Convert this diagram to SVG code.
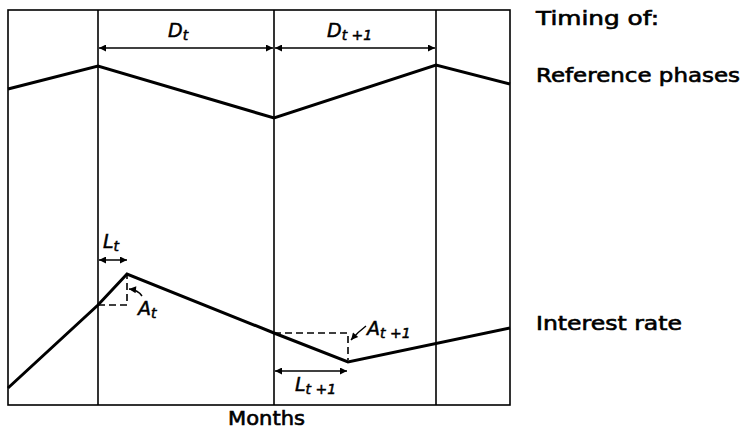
<svg xmlns="http://www.w3.org/2000/svg" width="742" height="428" viewBox="0 0 742 428">
<style>
.frame{fill:none;stroke:#000;stroke-width:1.6}
.series{fill:none;stroke:#000;stroke-width:3;stroke-linejoin:miter}
.dash{fill:none;stroke:#000;stroke-width:1.6;stroke-dasharray:7,4}
.dim{fill:none;stroke:#000;stroke-width:1.5}
.lbl{font-family:"DejaVu Sans","Liberation Sans",Arial,sans-serif;font-size:19px;fill:#000;stroke:#000;stroke-width:0.6}
.sym{font-family:"DejaVu Sans","Liberation Sans",Arial,sans-serif;font-style:italic;font-size:19px;fill:#000;stroke:#000;stroke-width:0.5}
.sub{font-size:14px}
</style>
<defs>
<marker id="ah" viewBox="0 0 10 10" refX="10" refY="5" markerWidth="9" markerHeight="7" markerUnits="userSpaceOnUse" orient="auto-start-reverse">
<path d="M0,0 L10,5 L0,10 z" fill="#000"/>
</marker>
</defs>
<g id="frame">
<rect class="frame" x="8" y="10" width="502" height="395"/>
<line class="frame" x1="98" y1="10" x2="98" y2="405"/>
<line class="frame" x1="274" y1="10" x2="274" y2="405"/>
<line class="frame" x1="436" y1="10" x2="436" y2="405"/>
</g>
<g id="reference-phases-line">
<polyline class="series" points="8,89 98,66 274,118 436,65 510,84"/>
</g>
<g id="interest-rate-line">
<polyline class="series" points="8,388 98,305 127,274 274,333 348,362 510,328"/>
</g>
<g id="connectors">
<line class="dim" x1="99" y1="48" x2="273" y2="48" marker-start="url(#ah)" marker-end="url(#ah)"/>
<line class="dim" x1="275" y1="48" x2="435" y2="48" marker-start="url(#ah)" marker-end="url(#ah)"/>
<line class="dim" x1="99" y1="260" x2="127" y2="260" marker-start="url(#ah)" marker-end="url(#ah)"/>
<line class="dim" x1="275" y1="371" x2="347" y2="371" marker-start="url(#ah)" marker-end="url(#ah)"/>
<polyline class="dash" points="98,305 127,305 127,276"/>
<polyline class="dash" points="274,333 348,333 348,360"/>
<path class="dim" d="M142,296 Q138,290 129,289" marker-end="url(#ah)"/>
<path class="dim" d="M366,326 Q358,332 351,340" marker-end="url(#ah)"/>
</g>
<g id="labels">
<text class="sym" x="168" y="37">D<tspan class="sub" dy="3">t</tspan></text>
<text class="sym" x="327" y="37">D<tspan class="sub" dy="3">t +1</tspan></text>
<text class="sym" x="103" y="248">L<tspan class="sub" dy="3">t</tspan></text>
<text class="sym" x="138" y="315">A<tspan class="sub" dy="3">t</tspan></text>
<text class="sym" x="367" y="335">A<tspan class="sub" dy="3">t +1</tspan></text>
<text class="sym" x="295" y="391">L<tspan class="sub" dy="3">t +1</tspan></text>
<text class="lbl" x="228" y="425" textLength="77" lengthAdjust="spacingAndGlyphs">Months</text>
<text class="lbl" x="536" y="25" textLength="123" lengthAdjust="spacingAndGlyphs">Timing of:</text>
<text class="lbl" x="536" y="82" textLength="204" lengthAdjust="spacingAndGlyphs">Reference phases</text>
<text class="lbl" x="536" y="330" textLength="146" lengthAdjust="spacingAndGlyphs">Interest rate</text>
</g>
</svg>
